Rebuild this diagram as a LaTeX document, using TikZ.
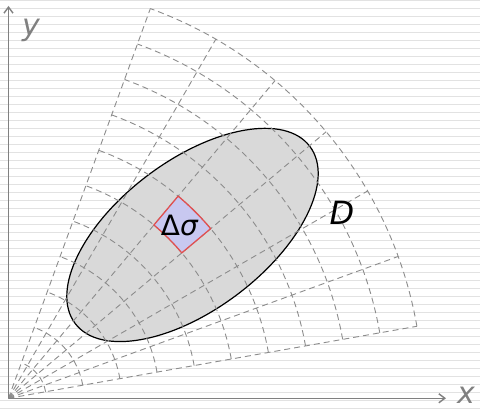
\documentclass[tikz,border=0pt]{standalone}
\usepackage{fontspec}
\setmainfont{DejaVu Sans}
\usetikzlibrary{arrows.meta}
\definecolor{axisgrey}{HTML}{808080}
\definecolor{gridgrey}{HTML}{8C8C8C}
\definecolor{bggrey}{HTML}{E2E2E2}
\definecolor{ellgrey}{HTML}{D9D9D9}
\definecolor{cellblue}{HTML}{C8C8F0}
\definecolor{cellred}{HTML}{E05050}
\begin{document}
\begin{tikzpicture}[x=1pt,y=1pt,
  bgline/.style={draw=bggrey, line width=1.2pt},
  gridline/.style={draw=gridgrey, dash pattern=on 6pt off 4pt, line width=0.9pt},
  axisline/.style={draw=axisgrey, line width=1.4pt, -{Straight Barb[length=6pt,width=9pt]}},
  axislabel/.style={text=axisgrey, font=\fontsize{30}{30}\selectfont\itshape, inner sep=0pt, anchor=base},
  region/.style={fill=ellgrey, draw=black, line width=1.2pt},
  cell/.style={fill=cellblue, draw=cellred, line width=1.3pt, line join=round}]
\useasboundingbox (0,0) rectangle (480,409);
\fill[white] (0,0) rectangle (480,409);
% ruled background
\foreach \k in {0,...,51} {
  \draw[bgline] (0,408.3-8*\k) -- (480,408.3-8*\k);
}
\coordinate (O) at (8.5,10.7);
\coordinate (C) at (192.5,174);
\coordinate (xend) at (446,10.7);
\coordinate (yend) at (8.5,403);
% region D
\draw[region, rotate around={37:(C)}] (C) ellipse [x radius=147pt, y radius=74.5pt];
% polar grid
\begin{scope}[shift={(O)}]
  \foreach \a in {10,20,...,70} {
    \draw[gridline] (0,0) -- (\a:414.7pt);
  }
  \foreach \k in {1,...,11} {
    \pgfmathsetmacro\rr{\k*37.7}
    \draw[gridline] (10:\rr pt) arc[start angle=10, end angle=70, radius=\rr pt];
  }
  % the cell Delta sigma
  \draw[cell] (40:226.2pt) arc[start angle=40, end angle=50, radius=226.2pt]
     -- (50:263.9pt) arc[start angle=50, end angle=40, radius=263.9pt] -- cycle;
  \node[inner sep=0pt, font=\fontsize{28}{28}\selectfont] (ds) at (45.3:243pt) {Δ{\itshape σ}};
\end{scope}
% axes
\draw[axisline] (O) -- (xend);
\draw[axisline] (O) -- (yend);
\node[axislabel] (xl) at (466,5) {x};
\node[axislabel] (yl) at (31,373.7) {y};
\node[inner sep=0pt, anchor=base, font=\fontsize{32}{32}\selectfont\itshape] (Dl) at (342,184) {D};
\end{tikzpicture}
\end{document}
